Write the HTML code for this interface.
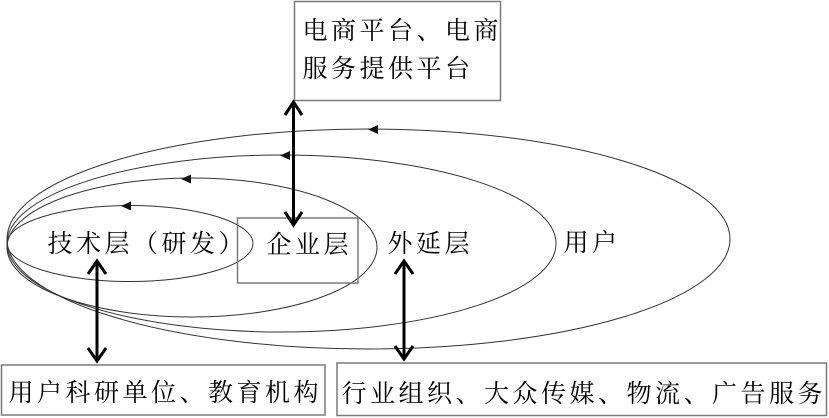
<!DOCTYPE html>
<html>
<head>
<meta charset="utf-8">
<style>
  html,body{margin:0;padding:0;background:#fff;}
  svg{display:block;}
  text{font-family:"Liberation Serif","Noto Serif CJK SC","Noto Sans CJK SC",serif;font-size:25px;fill:#000;letter-spacing:3.5px;}
</style>
</head>
<body>
<svg width="829" height="418" viewBox="0 0 829 418" xmlns="http://www.w3.org/2000/svg">
  <!-- ellipses -->
  <g fill="none" stroke="#333" stroke-width="1">
    <ellipse cx="130" cy="243.5" rx="123" ry="38"/>
    <ellipse cx="192" cy="247.5" rx="185" ry="69.5"/>
    <ellipse cx="281.5" cy="243.5" rx="274.5" ry="88.5"/>
    <ellipse cx="368.5" cy="239" rx="361.5" ry="110"/>
  </g>
  <!-- small arrowheads on ellipses -->
  <g fill="#111">
    <polygon points="121,206 131,201.5 131,210.5"/>
    <polygon points="181,179 191,174.5 191,183.5"/>
    <polygon points="280,155.5 290,151 290,160"/>
    <polygon points="368,129.5 378,125 378,134"/>
  </g>
  <!-- boxes -->
  <g fill="none" stroke="#7a7a7a" stroke-width="1.5">
    <rect x="294.5" y="1.5" width="206" height="99"/>
    <rect x="237.5" y="218" width="120.5" height="65"/>
    <rect x="1.5" y="365" width="323.5" height="50"/>
    <rect x="337" y="363" width="489.5" height="52.5"/>
  </g>
  <!-- thick double arrows -->
  <g fill="none" stroke="#000" stroke-width="3" stroke-linejoin="miter" stroke-linecap="butt">
    <line x1="293.5" y1="103" x2="293.5" y2="223"/>
    <polyline points="285,115 293.5,102 302,115"/>
    <polyline points="285,212 293.5,225 302,212"/>

    <line x1="97" y1="261" x2="97" y2="361"/>
    <polyline points="88,274 97,261 106,274"/>
    <polyline points="88,348 97,361 106,348"/>

    <line x1="404" y1="261" x2="404" y2="359"/>
    <polyline points="395,274 404,261 413,274"/>
    <polyline points="395,346 404,359 413,346"/>
  </g>
  <!-- labels -->
  <text x="302.5" y="39">电商平台、电商</text>
  <text x="302.5" y="77">服务提供平台</text>
  <text x="47.5" y="252">技术层（研发）</text>
  <text x="266.5" y="253">企业层</text>
  <text x="387.5" y="252">外延层</text>
  <text x="563.5" y="251">用户</text>
  <text x="8.5" y="401">用户科研单位、教育机构</text>
  <text x="341.5" y="402">行业组织、大众传媒、物流、广告服务</text>
</svg>
</body>
</html>
